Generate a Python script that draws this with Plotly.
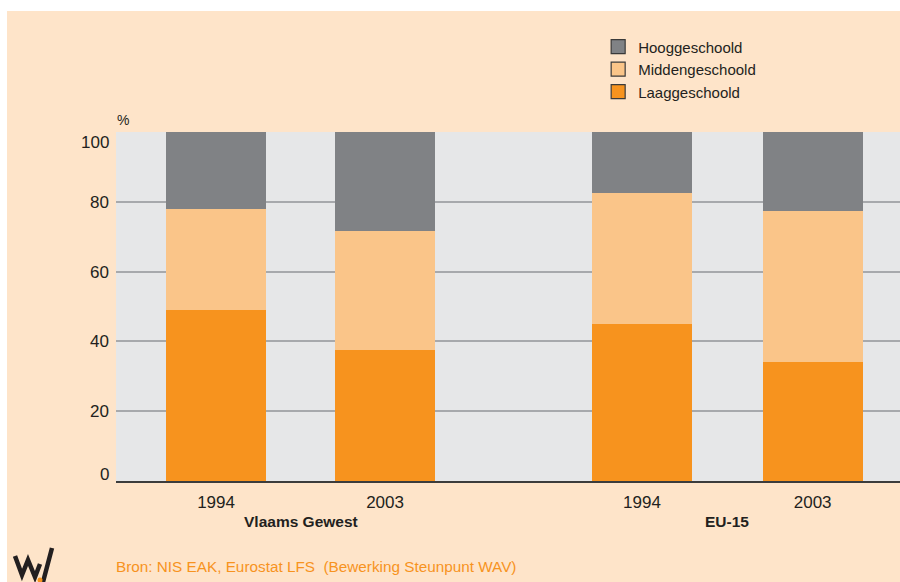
import plotly.graph_objects as go

# ---- data ----
year_labels = ["1994", "2003", "1994", "2003"]
bar_positions = [1, 2, 3.52, 4.53]
groups = ["Vlaams Gewest", "EU-15"]
group_centers = [1.5, 4.025]
laag = [49, 37.5, 45, 34]
midden = [29, 34, 37.5, 43.5]
hoog = [22, 28.5, 17.5, 22.5]
series_names = ["Laaggeschoold", "Middengeschoold", "Hooggeschoold"]
series_colors = ["#F7931E", "#FAC589", "#808285"]
y_ticks = [0, 20, 40, 60, 80, 100]
source = "Bron: NIS EAK, Eurostat LFS \u00a0(Bewerking Steunpunt WAV)"

FONT = "Liberation Sans, Arial, sans-serif"
TXT = "#231F20"
CREAM = "#FEE4C9"

W, H = 900, 582
ML, MR, MT, MB = 116, 0, 132, 101
PW, PH = W - ML - MR, H - MT - MB


def px(x):
    return (x - ML) / PW


def py(y):
    return (H - MB - y) / PH


fig = go.Figure()
for name, vals, col in zip(series_names, [laag, midden, hoog], series_colors):
    fig.add_trace(go.Bar(
        x=bar_positions, y=vals, name=name, width=0.592,
        marker=dict(color=col, line=dict(width=0)), showlegend=False,
    ))
    fig.add_trace(go.Scatter(
        x=[None], y=[None], mode="markers", name=name,
        marker=dict(symbol="square", size=14, color=col,
                    line=dict(color="#3a3a3a", width=1.2)),
        showlegend=True,
    ))

ticktext_y = ["" if v in (0, 100) else str(v) for v in y_ticks]

logo_pts = [(15, 556), (22, 575), (28, 560), (35, 577), (40, 564)]
logo_path = "M " + " L ".join(f"{px(a):.5f},{py(b):.5f}" for a, b in logo_pts)
logo_path += f" M {px(43):.5f},{py(582):.5f} L {px(52):.5f},{py(548):.5f}"

fig.update_layout(
    width=W, height=H,
    margin=dict(l=ML, r=MR, t=MT, b=MB),
    barmode="stack",
    paper_bgcolor=CREAM,
    plot_bgcolor="#E6E7E8",
    font=dict(family=FONT, color=TXT, size=17),
    legend=dict(x=0.615, xanchor="left", y=1.291, yanchor="top",
                traceorder="reversed", bgcolor="rgba(0,0,0,0)",
                font=dict(size=15, color=TXT, family=FONT),
                itemclick=False),
    xaxis=dict(range=[0.408, 5.047], tickvals=bar_positions, ticktext=year_labels,
               showgrid=False, zeroline=False, showline=True,
               linecolor="#3c3c3c", linewidth=2, ticks="",
               ticklabelstandoff=5,
               tickfont=dict(size=17, color=TXT)),
    yaxis=dict(range=[0, 100], tickvals=y_ticks, ticktext=ticktext_y,
               showgrid=True, gridcolor="#A7A9AC", gridwidth=1.6,
               zeroline=False, showline=False, ticks="", ticklabelstandoff=6,
               tickfont=dict(size=17, color=TXT)),
    shapes=[
        dict(type="rect", xref="paper", yref="paper",
             x0=px(0), x1=px(W), y0=py(11), y1=py(0),
             fillcolor="white", line=dict(width=0), layer="above"),
        dict(type="rect", xref="paper", yref="paper",
             x0=px(0), x1=px(7), y0=py(H), y1=py(0),
             fillcolor="white", line=dict(width=0), layer="above"),
        dict(type="path", xref="paper", yref="paper", path=logo_path,
             line=dict(color=TXT, width=4.5)),
        dict(type="circle", xref="paper", yref="paper",
             x0=px(37.5), x1=px(42.5), y0=py(582.5), y1=py(577.5),
             fillcolor="#F7931E", line=dict(width=0)),
    ],
)

for g, c in zip(groups, group_centers):
    fig.add_annotation(x=c, y=0, xref="x", yref="paper", yanchor="middle",
                       yshift=-40, text="<b>" + g + "</b>", showarrow=False,
                       font=dict(size=15.5, color=TXT, family=FONT))

# end labels of the y axis sit slightly inside the axis range
fig.add_annotation(x=0, y=1, xref="paper", yref="paper", xanchor="right",
                   yanchor="middle", xshift=-5, yshift=-10, text=str(y_ticks[-1]),
                   showarrow=False, font=dict(size=17, color=TXT, family=FONT))
fig.add_annotation(x=0, y=0, xref="paper", yref="paper", xanchor="right",
                   yanchor="middle", xshift=-5, yshift=7, text=str(y_ticks[0]),
                   showarrow=False, font=dict(size=17, color=TXT, family=FONT))

fig.add_annotation(x=0, y=1, xref="paper", yref="paper", xanchor="left",
                   yanchor="middle", xshift=-1, yshift=12, text="%",
                   showarrow=False, font=dict(size=14, color=TXT, family=FONT))

fig.add_annotation(x=0, y=0, xref="paper", yref="paper", xanchor="left",
                   yanchor="middle", xshift=-2, yshift=-85, text=source,
                   showarrow=False, font=dict(size=15.3, color="#F7931E", family=FONT))

fig.write_html(
    "out.html",
    config={"displayModeBar": False},
    post_script="document.body.style.margin='0';"
                "document.body.style.overflow='hidden';",
)
